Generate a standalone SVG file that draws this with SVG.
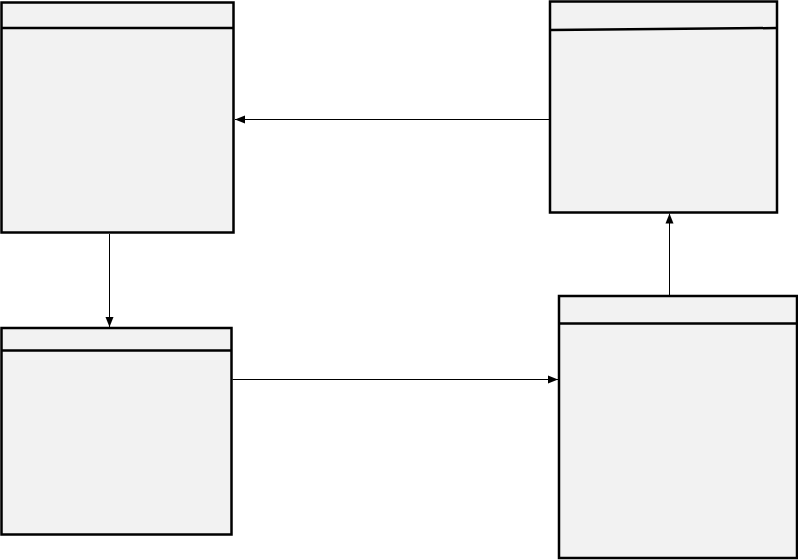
<svg xmlns="http://www.w3.org/2000/svg" width="798" height="560" viewBox="0 0 798 560">
<style>
.box{fill:#f2f2f2;stroke:#000;stroke-width:2.5}
.hd{stroke:#000;stroke-width:2.5}
.c{stroke:#000;stroke-width:1;fill:none;marker-end:url(#ah)}
</style>
<defs>
<marker id="ah" viewBox="0 0 10 10" refX="10" refY="5" markerWidth="10" markerHeight="10" markerUnits="userSpaceOnUse" orient="auto">
<path d="M0,1 L10,5 L0,9 Z" fill="#000"/>
</marker>
</defs>
<rect width="798" height="560" fill="#fff"/>
<g id="node-a">
<rect class="box" x="1.5" y="2.5" width="232" height="230"/>
<line class="hd" x1="1.5" y1="28" x2="233.5" y2="28"/>
</g>
<g id="node-b">
<rect class="box" x="550" y="1.5" width="227" height="211"/>
<line class="hd" x1="550" y1="30" x2="777" y2="28"/>
</g>
<g id="node-c">
<rect class="box" x="559" y="296" width="238" height="262"/>
<line class="hd" x1="559" y1="323.5" x2="797" y2="323.5"/>
</g>
<g id="node-d">
<rect class="box" x="1.5" y="328" width="230" height="206.5"/>
<line class="hd" x1="1.5" y1="350.5" x2="231.5" y2="350.5"/>
</g>
<g id="connectors">
<path class="c" d="M549,119.5 L235,119.5"/>
<path class="c" d="M109.5,234 L109.5,327"/>
<path class="c" d="M232.5,379.5 L558,379.5"/>
<path class="c" d="M669.5,295 L669.5,213.5"/>
</g>
</svg>
